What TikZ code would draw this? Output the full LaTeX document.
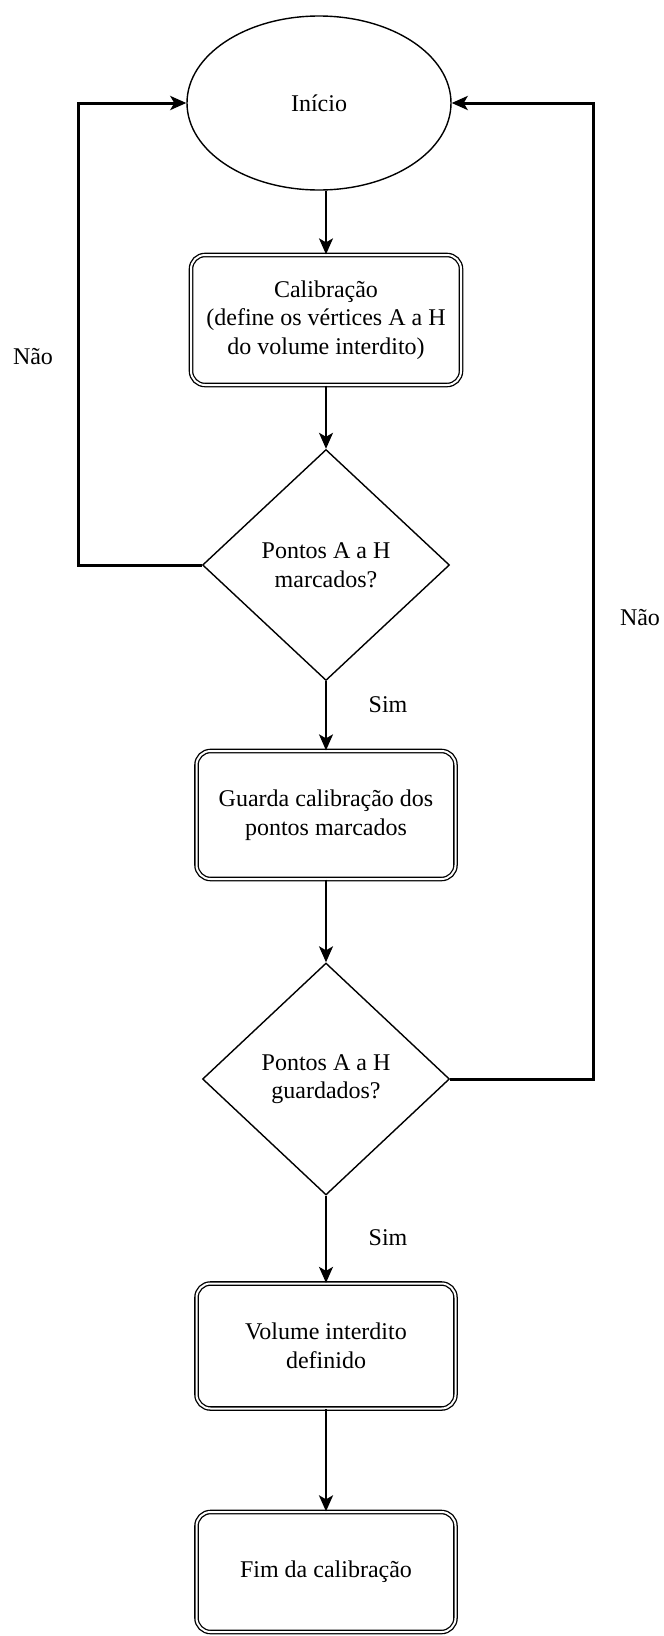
\documentclass[tikz,border=0pt]{standalone}
\usepackage{fontspec}
\setmainfont{Liberation Serif}
\usetikzlibrary{arrows.meta, shapes.geometric}
\newcommand{\fcfont}{\fontsize{24}{28.5}\selectfont}
\tikzset{
	startnode/.style={draw, ellipse, line width=1.4pt, minimum width=264pt, minimum height=174pt, font=\fcfont},
	flowbox/.style={draw, rectangle, rounded corners=14pt, double, double distance=2pt, line width=1.3pt, minimum width=#1, align=center, font=\fcfont},
	decbox/.style={draw, diamond, line width=1.4pt, minimum width=247pt, minimum height=231pt, align=center, font=\fcfont},
	flowarr/.style={-{Stealth[length=16pt, width=14pt, inset=4pt]}, line width=1.7pt},
	looparr/.style={-{Stealth[length=16pt, width=14pt, inset=4pt]}, line width=3pt},
	answer/.style={font=\fcfont},
}

\begin{document}
\begin{tikzpicture}[x=1pt, y=-1pt]
	\useasboundingbox (0,0) rectangle (664,1636);
	\node[startnode] (start) at (319,103) {Início};
	\node[flowbox=270pt, minimum height=130pt] (calib) at (326,320) {Calibração\\(define os vértices A a H\\do volume interdito)};
	\node[decbox] (check1) at (326,565) {Pontos A a H\\marcados?};
	\node[flowbox=259pt, minimum height=128pt] (save) at (326,815) {Guarda calibração dos\\pontos marcados};
	\node[decbox, minimum height=232pt] (check2) at (326,1079) {Pontos A a H\\guardados?};
	\node[flowbox=259pt, minimum height=125pt] (vol) at (326,1346) {Volume interdito\\definido};
	\node[flowbox=259pt, minimum height=120pt] (fim) at (326,1572) {Fim da calibração};
	% corners of the two return loops
	\coordinate (lcorner) at (78,103);
	\coordinate (rcorner) at (593,103);
	\draw[flowarr] (start.south -| calib.north) -- (calib.north);
	\draw[flowarr] (calib) -- (check1);
	\draw[flowarr] (check1) -- (save);
	\draw[flowarr] (save) -- (check2);
	\draw[flowarr] (check2) -- (vol);
	\draw[flowarr, line width=2.6pt] (vol) -- (fim);
	\draw[looparr] (check1.west) -| (lcorner) -- (start.west);
	\draw[looparr] (check2.east) -| (rcorner) -- (start.east);
	% answers
	\node[answer] (sim1) at (388,705) {Sim};
	\node[answer] (sim2) at (388,1238) {Sim};
	\node[answer] (nao1) at (33,357) {Não};
	\node[answer] (nao2) at (640,618) {Não};
\end{tikzpicture}
\end{document}
